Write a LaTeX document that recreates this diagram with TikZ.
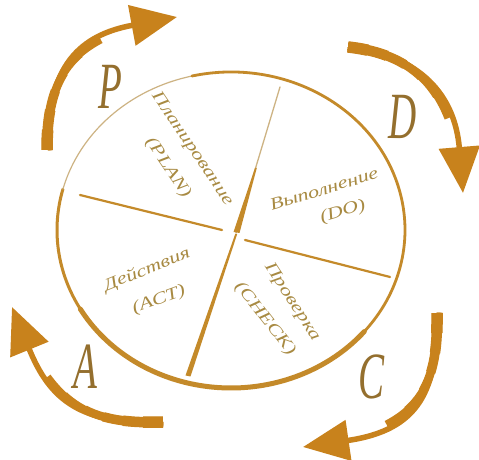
\documentclass[tikz,border=0pt]{standalone}
\usepackage{fontspec}
\setmainfont{Liberation Serif}
\usepackage{graphicx}
\usetikzlibrary{arrows.meta}
\definecolor{arrowc}{HTML}{C8821C}
\definecolor{ringc}{HTML}{C48A2A}
\definecolor{ringthin}{HTML}{CDB383}
\definecolor{txtc}{HTML}{A88A42}
\definecolor{letc}{HTML}{946F2E}
\begin{document}
\begin{tikzpicture}[x=1pt,y=1pt,
  ring/.style={draw=ringc,line cap=round},
  thinring/.style={draw=ringthin,line width=1.2pt,line cap=round},
  spoke/.style={draw=ringc,line width=2.2pt,line cap=round},
  blade/.style={fill=ringc,draw=none},
  lbl/.style={text=txtc,font=\fontsize{17}{20}\selectfont\itshape,inner sep=0pt},
  big/.style={text=letc,font=\fontsize{60}{60}\selectfont\itshape,inner sep=0pt},
  body/.style={draw=arrowc,line width=5.5pt,-{Triangle[length=46pt,width=40pt]}},
  tp/.style 2 args={draw=arrowc,line width=#1,dash pattern=on #2 off 2000pt}
]
\fill[white] (0,0) rectangle (479,460);
\useasboundingbox (0,0) rectangle (479,460);

% ring
\coordinate (O) at (231,230);
\draw[ring,line width=5pt] (O) ++(320:174pt and 158pt) arc[start angle=320,end angle=210,x radius=174pt,y radius=158pt];
\draw[ring,line width=3pt] (O) ++(210:174pt and 158pt) arc[start angle=210,end angle=165,x radius=174pt,y radius=158pt];
\draw[thinring] (O) ++(165:174pt and 158pt) arc[start angle=165,end angle=103,x radius=174pt,y radius=158pt];
\draw[ring,line width=2.8pt] (O) ++(103:174pt and 158pt) arc[start angle=103,end angle=-40,x radius=174pt,y radius=158pt];

% spokes
\coordinate (hub) at (236,227);
\coordinate (sT) at (280,373);
\coordinate (sB) at (188,83);
\coordinate (sL) at (80,265);
\coordinate (sR) at (390,183);
\coordinate (hL) at (222,230);
\coordinate (hR) at (245,220);
\draw[thinring,line width=1.3pt] (sT) -- (hub);
\fill[blade] (255,292) -- (256.8,292) -- (239.5,227) -- (233.5,228) -- cycle;
\fill[blade] (235.2,226) -- (237.2,226) -- (190.5,83.5) -- (185.5,84.5) -- cycle;
\draw[spoke] (sL) -- (hL);
\draw[spoke] (hR) -- (sR);

% labels
\node[lbl,rotate=-56] (plan1) at (192,311) {\scalebox{1.3}[1]{Планирование}};
\node[lbl,rotate=-56] (plan2) at (168,292) {\scalebox{1.3}[1]{(PLAN)}};
\node[lbl,rotate=17] (do1) at (324,271) {\scalebox{1.3}[1]{Выполнение}};
\node[lbl,rotate=17] (do2) at (343,248) {\scalebox{1.3}[1]{(DO)}};
\node[lbl,rotate=-57] (ch1) at (292,158) {\scalebox{1.3}[1]{Проверка}};
\node[lbl,rotate=-52] (ch2) at (265,141) {\scalebox{1.3}[1]{(CHECK)}};
\node[lbl,rotate=22] (act1) at (147,190) {\scalebox{1.3}[1]{Действия}};
\node[lbl,rotate=20] (act2) at (159,160) {\scalebox{1.3}[1]{(ACT)}};

% big letters
\node[big] (P) at (110,373) {\scalebox{0.65}[1.1]{P}};
\node[big] (D) at (403,343) {\scalebox{0.65}[1.1]{D}};
\node[big] (C) at (372,83) {\scalebox{0.65}[1.1]{C}};
\node[big] (A) at (85,93) {\scalebox{0.65}[1.1]{A}};

% arrows
\coordinate (Ps) at (47,310); \coordinate (Pc1) at (47,395); \coordinate (Pc2) at (80,425); \coordinate (Pe) at (177,443);
\coordinate (Ds) at (348,413); \coordinate (Dc1) at (420,405); \coordinate (Dc2) at (455,365); \coordinate (De) at (463,267);
\coordinate (Cs) at (437,147); \coordinate (Cc1) at (438,70); \coordinate (Cc2) at (420,30); \coordinate (Ce) at (303,13);
\coordinate (As) at (163,38); \coordinate (Ac1) at (80,35); \coordinate (Ac2) at (50,60); \coordinate (Ae) at (12,153);

\foreach \s/\a/\b/\e in {Ps/Pc1/Pc2/Pe, Ds/Dc1/Dc2/De, Cs/Cc1/Cc2/Ce, As/Ac1/Ac2/Ae}{
  \draw[body] (\s) .. controls (\a) and (\b) .. (\e);
  \foreach \w/\l in {6.5pt/130pt, 7.5pt/105pt, 8.5pt/80pt, 9.5pt/60pt, 10.5pt/40pt, 11.5pt/20pt}{
    \draw[tp={\w}{\l}] (\s) .. controls (\a) and (\b) .. (\e);
  }
}
\end{tikzpicture}
\end{document}
